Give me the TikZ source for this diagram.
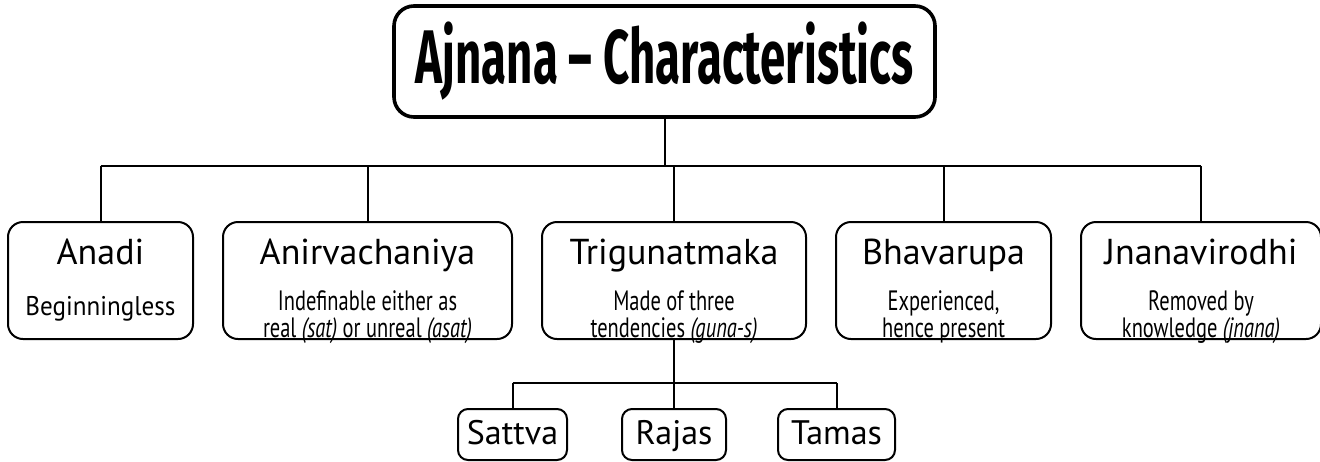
\documentclass[tikz,border=0pt]{standalone}
\usepackage{fontspec}
\setmainfont{PT Sans}
\newfontfamily\titlefont{Fira Sans}[FakeStretch=0.6]
\newfontfamily\subfont{PT Sans}[FakeStretch=0.73]
\newfontfamily\subwfont{PT Sans}[FakeStretch=0.93]
\usetikzlibrary{positioning}
\tikzset{
  topbox/.style={draw,line width=1.8pt,rounded corners=10pt,
    minimum width=270.5pt,minimum height=55.5pt,inner sep=0pt,
    font=\titlefont\bfseries\fontsize{38}{40}\selectfont},
  featbox/.style={draw,line width=1pt,rounded corners=7.5pt,
    minimum height=58.5pt,inner sep=0pt},
  gunabox/.style={draw,line width=1pt,rounded corners=5pt,
    minimum height=25.5pt,inner sep=0pt,text height=12pt,text depth=2.5pt,
    font=\fontsize{17}{19}\selectfont},
  headtxt/.style={anchor=base,inner sep=0pt,font=\fontsize{18}{20}\selectfont},
  subtxt/.style={anchor=base,inner sep=0pt,align=center,
    font=\subfont\fontsize{14}{13.5}\selectfont},
  conn/.style={line width=1pt}
}
\newcommand{\ital}[1]{\textit{#1}}
\begin{document}
\begin{tikzpicture}[x=0.5pt,y=-0.5pt]
  \useasboundingbox (0,0) rectangle (1320,461);
  % top of the tree
  \node[topbox] (title) at (664.5,61.5) {Ajnana – Characteristics};
  % five characteristics
  \node[featbox,minimum width=92.5pt] (anadi) at (100.5,280.5) {};
  \node[featbox,minimum width=144.5pt,right=14pt of anadi] (anirv) {};
  \node[featbox,minimum width=132pt,right=14pt of anirv] (trig) {};
  \node[featbox,minimum width=107.5pt,right=14pt of trig] (bhava) {};
  \node[featbox,minimum width=120pt,right=14pt of bhava] (jnana) {};
  \node[headtxt] (anadi-h) at ([yshift=-21.5pt]anadi.north) {Anadi};
  \node[headtxt] (anirv-h) at ([yshift=-21.5pt]anirv.north) {Anirvachaniya};
  \node[headtxt] (trig-h)  at ([yshift=-21.5pt]trig.north)  {Trigunatmaka};
  \node[headtxt] (bhava-h) at ([yshift=-21.5pt]bhava.north) {Bhavarupa};
  \node[headtxt] (jnana-h) at ([yshift=-21.5pt]jnana.north) {Jnanavirodhi};
  \node[subtxt,font=\subwfont\fontsize{13.5}{15}\selectfont] (anadi-s)
    at ([yshift=-47pt]anadi.north) {Beginningless};
  \node[subtxt] (anirv-s) at ([yshift=-58pt]anirv.north)
    {Indefinable either as\\ real \ital{(sat)} or unreal \ital{(asat)}};
  \node[subtxt] (trig-s) at ([yshift=-58pt]trig.north)
    {Made of three\\ tendencies \ital{(guna-s)}};
  \node[subtxt] (bhava-s) at ([yshift=-58pt]bhava.north)
    {Experienced,\\ hence present};
  \node[subtxt] (jnana-s) at ([yshift=-58pt]jnana.north)
    {Removed by\\ knowledge \ital{(jnana)}};
  % three guna-s
  \node[gunabox,minimum width=52pt,below=34pt of trig] (rajas) {Rajas};
  \node[gunabox,minimum width=54.5pt,left=26.5pt of rajas] (sattva) {Sattva};
  \node[gunabox,minimum width=58.5pt,right=25pt of rajas] (tamas) {Tamas};
  % connectors
  \draw[conn] (title.south) -- ++(0,-23.5pt) coordinate (hub);
  \draw[conn] (hub -| anadi.north) -- (hub -| jnana.north);
  \foreach \n in {anadi,anirv,trig,bhava,jnana}
    \draw[conn] (hub -| \n.north) -- (\n.north);
  \draw[conn] (trig.south) -- ++(0,-21.5pt) coordinate (hub2);
  \draw[conn] (hub2 -| sattva.north) -- (hub2 -| tamas.north);
  \foreach \n in {sattva,rajas,tamas}
    \draw[conn] (hub2 -| \n.north) -- (\n.north);
\end{tikzpicture}
\end{document}
